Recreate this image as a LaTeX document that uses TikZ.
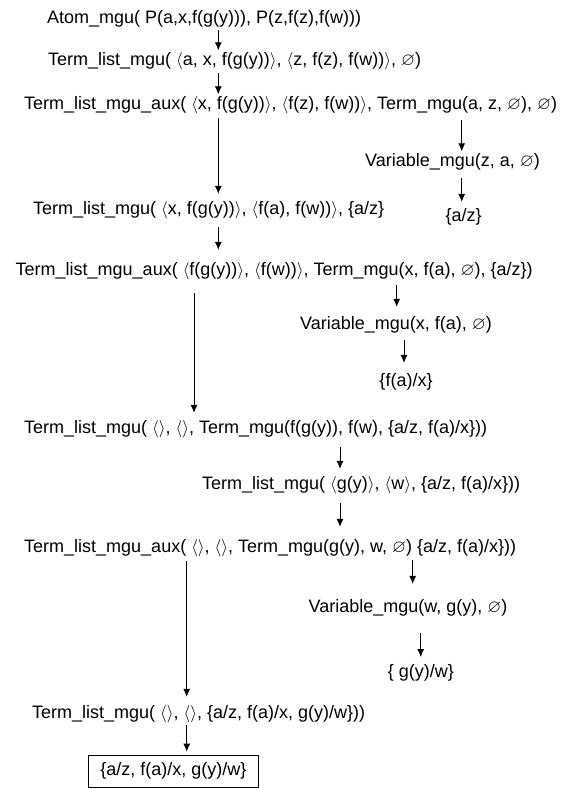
\documentclass[tikz,border=0pt]{standalone}
\usepackage{amssymb}
\usepackage{fontspec}
\setmainfont{Liberation Sans}
\usetikzlibrary{arrows.meta}
\newcommand{\myla}{$\langle$}
\newcommand{\myra}{$\rangle$}
\newcommand{\emp}{$\varnothing$}
\tikzset{
  lbl/.style={anchor=west, inner xsep=0pt, inner ysep=2pt, text height=13pt, text depth=4pt, font=\fontsize{18}{21}\selectfont},
  arr/.style={draw, -{Latex[length=8pt,width=7pt]}, line width=0.8pt},
  resbox/.style={draw, line width=0.8pt, inner xsep=0pt, minimum width=170pt, minimum height=32pt, font=\fontsize{18}{21}\selectfont},
}
\begin{document}
\begin{tikzpicture}[x=1pt,y=-1pt]
\useasboundingbox (0,0) rectangle (576,788);
\node[lbl] (n1) at (47,19) {Atom\_mgu( P(a,x,f(g(y))), P(z,f(z),f(w)))};
\node[lbl] (n2) at (48,61) {Term\_list\_mgu( \myla a, x, f(g(y))\myra, \myla z, f(z), f(w))\myra, \emp)};
\node[lbl] (n3) at (24,105) {Term\_list\_mgu\_aux( \myla x, f(g(y))\myra, \myla f(z), f(w))\myra, Term\_mgu(a, z, \emp), \emp)};
\node[lbl] (v1) at (365,162) {Variable\_mgu(z, a, \emp)};
\node[lbl,anchor=center] (r1) at (463.7,217) {\{a/z\}};
\node[lbl] (n4) at (33,210) {Term\_list\_mgu( \myla x, f(g(y))\myra, \myla f(a), f(w))\myra, \{a/z\}};
\node[lbl] (n5) at (15.5,271) {Term\_list\_mgu\_aux( \myla f(g(y))\myra, \myla f(w))\myra, Term\_mgu(x, f(a), \emp), \{a/z\})};
\node[lbl] (v2) at (300,325) {Variable\_mgu(x, f(a), \emp)};
\node[lbl,anchor=center] (r2) at (406,381.5) {\{f(a)/x\}};
\node[lbl] (n6) at (24,429) {Term\_list\_mgu( \myla\myra, \myla\myra, Term\_mgu(f(g(y)), f(w), \{a/z, f(a)/x\}))};
\node[lbl] (n7) at (202,485) {Term\_list\_mgu( \myla g(y)\myra, \myla w\myra, \{a/z, f(a)/x\}))};
\node[lbl] (n8) at (24,548) {Term\_list\_mgu\_aux( \myla\myra, \myla\myra, Term\_mgu(g(y), w, \emp) \{a/z, f(a)/x\}))};
\node[lbl] (v3) at (308.5,608) {Variable\_mgu(w, g(y), \emp)};
\node[lbl,anchor=center] (r3) at (421,672.7) {\{ g(y)/w\}};
\node[lbl] (n9) at (32,714) {Term\_list\_mgu( \myla\myra, \myla\myra, \{a/z, f(a)/x, g(y)/w\}))};
\node[resbox] (res) at (173.3,771) {\{a/z, f(a)/x, g(y)/w\}};
\coordinate (xa) at (218.3,0);
\coordinate (xb) at (461.7,0);
\coordinate (xc) at (194,0);
\coordinate (xd) at (396.7,0);
\coordinate (xe) at (404,0);
\coordinate (xf) at (340,0);
\coordinate (xg) at (186.7,0);
\coordinate (xh) at (412.7,0);
\coordinate (xi) at (420.7,0);
\draw[arr] (n1.south -| xa) -- (n2.north -| xa);
\draw[arr, shorten <=1.5pt] (n2.south -| xa) -- (n3.north -| xa);
\draw[arr, shorten <=2.5pt, shorten >=5.5pt] (n3.south -| xa) -- (n4.north -| xa);
\draw[arr, shorten <=4.5pt] (n3.south -| xb) -- (v1.north -| xb);
\draw[arr, shorten <=5.5pt, shorten >=4.5pt] (v1.south -| xb) -- (r1.north -| xb);
\draw[arr, shorten <=6.5pt, shorten >=10.5pt] (n4.south -| xa) -- (n5.north -| xa);
\draw[arr, shorten <=11.5pt, shorten >=5.5pt] (n5.south -| xc) -- (n6.north -| xc);
\draw[arr, shorten <=3.5pt, shorten >=7.5pt] (n5.south -| xd) -- (v2.north -| xd);
\draw[arr, shorten <=4.5pt, shorten >=8pt] (v2.south -| xe) -- (r2.north -| xe);
\draw[arr, shorten <=7.5pt, shorten >=5.5pt] (n6.south -| xf) -- (n7.north -| xf);
\draw[arr, shorten <=7.5pt, shorten >=10.5pt] (n7.south -| xf) -- (n8.north -| xf);
\draw[arr, shorten <=2.5pt, shorten >=6.5pt] (n8.south -| xg) -- (n9.north -| xg);
\draw[arr, shorten <=1.5pt, shorten >=13.5pt] (n8.south -| xh) -- (v3.north -| xh);
\draw[arr, shorten <=14.5pt, shorten >=5pt] (v3.south -| xi) -- (r3.north -| xi);
\draw[arr, shorten >=3pt] (n9.south -| xg) -- (res.north -| xg);
\end{tikzpicture}
\end{document}
